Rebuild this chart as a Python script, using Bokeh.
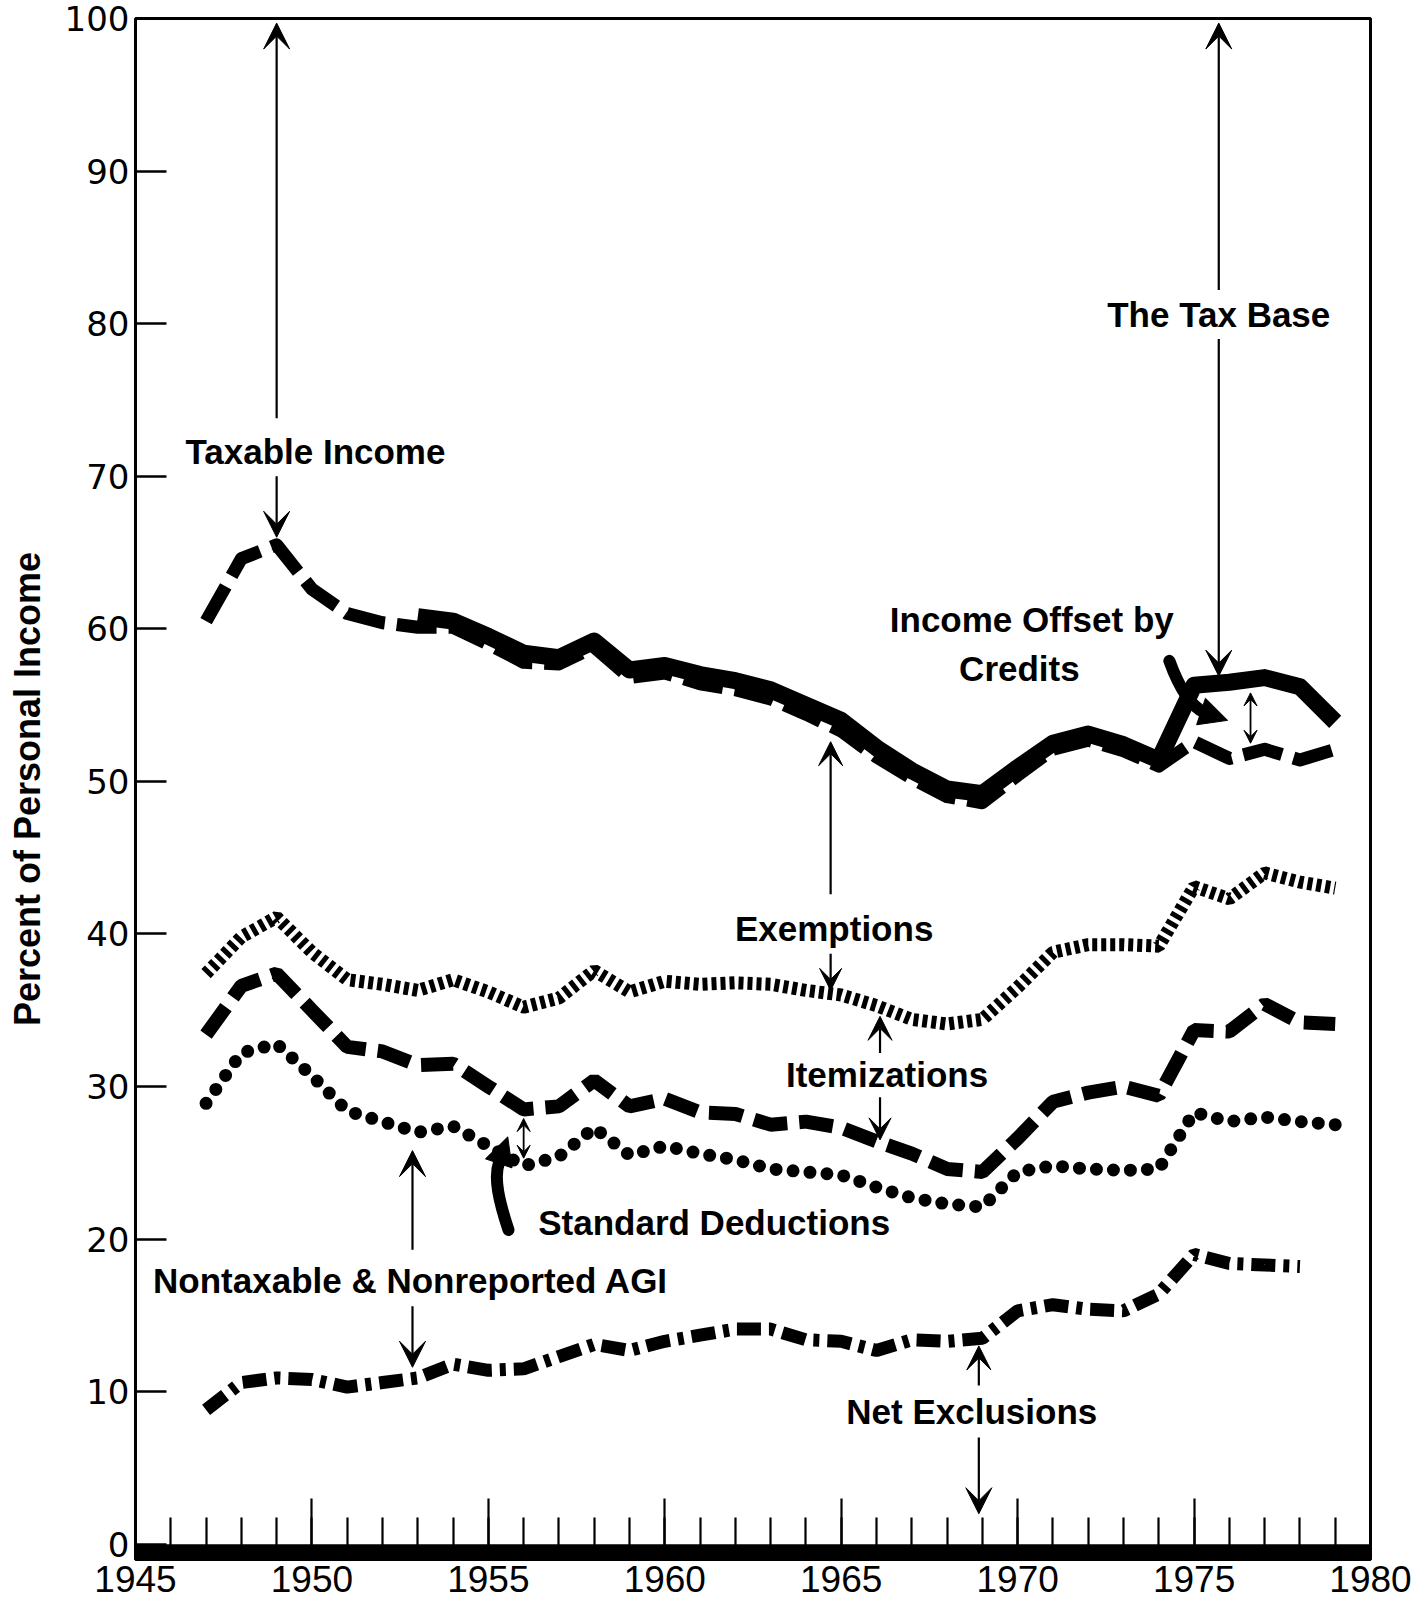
from bokeh.plotting import figure
from bokeh.models import Range1d, FixedTicker, Label, Arrow, VeeHead, NormalHead, BoxAnnotation
from bokeh.embed import file_html
from bokeh.resources import INLINE

# ---------------- data (percent of personal income) ----------------
years = list(range(1947, 1980))
taxable_income = [60.5, 64.6, 65.5, 62.6, 61.0, 60.4, 60.1, 60.1, 59.0, 57.8, 57.7,
                  58.8, 56.8, 57.1, 56.4, 56.0, 55.4, 54.4, 53.3, 51.6, 50.2, 49.0,
                  48.6, 50.4, 52.1, 52.7, 52.0, 51.0, 52.6, 51.5, 52.1, 51.4, 52.1]
tax_base_years = list(range(1953, 1980))
tax_base = [60.8, 60.5, 59.5, 58.4, 58.1, 59.2, 57.3, 57.6, 57.0, 56.6, 56.0, 55.0,
            54.0, 52.2, 50.7, 49.5, 49.2, 50.9, 52.5, 53.1, 52.4, 51.4, 56.3, 56.5,
            56.8, 56.2, 53.9]
exemptions = [37.4, 39.8, 41.1, 38.8, 37.0, 36.7, 36.3, 37.0, 36.2, 35.2, 35.8,
              37.6, 36.2, 36.9, 36.7, 36.8, 36.7, 36.3, 36.0, 35.3, 34.4, 34.1,
              34.4, 36.5, 38.8, 39.3, 39.3, 39.2, 43.1, 42.3, 44.0, 43.4, 43.0]
itemizations = [33.4, 36.6, 37.4, 35.0, 32.6, 32.3, 31.4, 31.5, 30.0, 28.5, 28.7,
                30.4, 28.7, 29.2, 28.3, 28.2, 27.5, 27.7, 27.3, 26.4, 25.6, 24.6,
                24.4, 26.6, 29.0, 29.6, 30.0, 29.4, 33.7, 33.6, 35.4, 34.2, 34.1]
standard_deductions = [28.9, 32.2, 32.8, 30.7, 28.4, 27.7, 27.0, 27.4, 26.1, 24.8, 25.4,
                       27.3, 25.5, 26.1, 25.6, 25.2, 24.6, 24.4, 24.2, 23.4, 22.7, 22.3,
                       22.1, 24.4, 24.8, 24.6, 24.5, 24.6, 28.3, 27.7, 28.0, 27.7, 27.5]
net_exclusion_years = list(range(1947, 1979))
net_exclusions = [8.8, 10.6, 10.9, 10.8, 10.3, 10.6, 10.9, 11.8, 11.4, 11.5, 12.3,
                  13.1, 12.7, 13.3, 13.7, 14.1, 14.1, 13.4, 13.3, 12.7, 13.4, 13.3,
                  13.5, 15.3, 15.7, 15.4, 15.3, 16.4, 19.0, 18.4, 18.3, 18.2]

x_major_ticks = [1945, 1950, 1955, 1960, 1965, 1970, 1975, 1980]
x_minor_ticks = list(range(1946, 1980))
y_ticks = [0, 10, 20, 30, 40, 50, 60, 70, 80, 90, 100]

# annotation texts and anchor positions (data units)
labels = [
    ("Taxable Income", 1950.1, 71.6),
    ("The Tax Base", 1975.7, 80.6),
    ("Income Offset by", 1970.4, 60.6),
    ("Credits", 1970.05, 57.4),
    ("Exemptions", 1964.8, 40.35),
    ("Itemizations", 1966.3, 30.8),
    ("Standard Deductions", 1961.4, 21.06),
    ("Nontaxable & Nonreported AGI", 1952.8, 17.3),
    ("Net Exclusions", 1968.7, 8.7),
]
# thin arrows: (x, y_start, y_end, head size)
thin_arrows = [
    (1949.0, 73.8, 99.7, 26), (1949.0, 70.0, 66.0, 26),
    (1975.7, 82.2, 99.7, 26), (1975.7, 79.0, 56.9, 26),
    (1964.7, 42.6, 52.6, 24), (1964.7, 38.7, 36.3, 22),
    (1966.1, 32.2, 34.6, 24), (1966.1, 29.3, 26.5, 22),
    (1952.85, 19.3, 25.8, 26), (1952.85, 15.6, 11.6, 26),
    (1968.9, 10.4, 13.0, 24), (1968.9, 7.0, 2.0, 26),
]
# small double-headed arrows: (x, y_a, y_b)
double_arrows = [(1956.0, 27.9, 25.3), (1976.6, 55.8, 52.5)]
# thick curved pointers: bezier (x0,y0,cx0,cy0,cx1,cy1,x1,y1) + head end (xh,yh)
curved = [
    (1955.57, 20.6, 1955.3, 22.5, 1955.15, 24.0, 1955.3, 25.0, 1955.55, 26.7),
    (1974.3, 57.9, 1974.55, 56.3, 1974.85, 55.0, 1975.3, 54.5, 1975.95, 54.0),
]

# ---------------- figure ----------------
p = figure(width=1420, height=1617,
           x_range=Range1d(1945, 1980), y_range=Range1d(-1, 100),
           output_backend="svg", toolbar_location=None,
           min_border_left=135, min_border_right=50,
           min_border_top=18, min_border_bottom=58)
p.xgrid.visible = False
p.ygrid.visible = False
p.outline_line_color = "black"
p.outline_line_width = 3
p.outline_line_alpha = 1
p.background_fill_color = "white"
p.border_fill_color = "white"

# y axis
p.yaxis.ticker = FixedTicker(ticks=y_ticks)
p.yaxis.major_tick_in = 31
p.yaxis.major_tick_out = 0
p.yaxis.minor_tick_in = 0
p.yaxis.minor_tick_out = 0
p.yaxis.major_tick_line_width = 2.5
p.yaxis.major_tick_line_color = "black"
p.yaxis.axis_line_color = None
p.yaxis.major_label_text_font = "DejaVu Sans"
p.yaxis.major_label_text_font_size = "34px"
p.yaxis.major_label_text_color = "black"
p.yaxis.major_label_standoff = 6
p.yaxis.axis_label = "Percent of Personal Income"
p.yaxis.axis_label_text_font = "Liberation Sans"
p.yaxis.axis_label_text_font_style = "bold"
p.yaxis.axis_label_text_font_size = "36px"
p.yaxis.axis_label_text_color = "black"
p.yaxis.axis_label_standoff = 14

# x axis
p.xaxis.ticker = FixedTicker(ticks=x_major_ticks, minor_ticks=x_minor_ticks)
p.xaxis.major_tick_in = 61
p.xaxis.major_tick_out = 0
p.xaxis.minor_tick_in = 42
p.xaxis.minor_tick_out = 0
p.xaxis.major_tick_line_width = 2.2
p.xaxis.minor_tick_line_width = 2.2
p.xaxis.major_tick_line_color = "black"
p.xaxis.minor_tick_line_color = "black"
p.xaxis.axis_line_color = None
p.xaxis.major_label_text_font = "Liberation Sans"
p.xaxis.major_label_text_font_size = "37px"
p.xaxis.major_label_text_color = "black"
p.xaxis.major_label_standoff = 6

# thick base bar below zero
p.add_layout(BoxAnnotation(top=0, fill_color="black", fill_alpha=1, line_color=None))

# ---------------- series ----------------
p.line(years, exemptions, line_color="black", line_width=13, line_dash="5 4", line_cap="butt")
p.line(years, itemizations, line_color="black", line_width=14, line_dash="34 12", line_cap="butt")
p.line(years, standard_deductions, line_color="black", line_width=13, line_dash="0 17", line_cap="round")
p.line(net_exclusion_years, net_exclusions, line_color="black", line_width=13,
       line_dash="24 8 6 8", line_cap="butt")
p.line(years, taxable_income, line_color="black", line_width=13, line_dash="40 12",
       line_cap="butt", line_join="round")
p.line(tax_base_years, tax_base, line_color="black", line_width=17, line_cap="butt", line_join="round")

# ---------------- annotations ----------------
for txt, lx, ly in labels:
    p.add_layout(Label(x=lx, y=ly, text=txt, text_align="center", text_baseline="middle",
                       text_font="Liberation Sans", text_font_style="bold",
                       text_font_size="35px", text_color="black"))

for ax, y0, y1, hs in thin_arrows:
    p.add_layout(Arrow(x_start=ax, y_start=y0, x_end=ax, y_end=y1, line_width=2.2,
                       line_color="black",
                       end=VeeHead(size=hs, fill_color="black", line_color="black")))

for ax, ya, yb in double_arrows:
    p.add_layout(Arrow(x_start=ax, y_start=ya, x_end=ax, y_end=yb, line_width=1.8,
                       line_color="black",
                       start=VeeHead(size=13, fill_color="black", line_color="black"),
                       end=VeeHead(size=13, fill_color="black", line_color="black")))

for (x0, y0, cx0, cy0, cx1, cy1, x1, y1, xh, yh) in curved:
    p.bezier(x0=[x0], y0=[y0], cx0=[cx0], cy0=[cy0], cx1=[cx1], cy1=[cy1], x1=[x1], y1=[y1],
             line_color="black", line_width=12, line_cap="round")
    p.add_layout(Arrow(x_start=x1, y_start=y1, x_end=xh, y_end=yh, line_width=10,
                       line_color="black",
                       end=NormalHead(size=28, fill_color="black", line_color="black")))

open("out.html", "w").write(file_html(p, INLINE))
